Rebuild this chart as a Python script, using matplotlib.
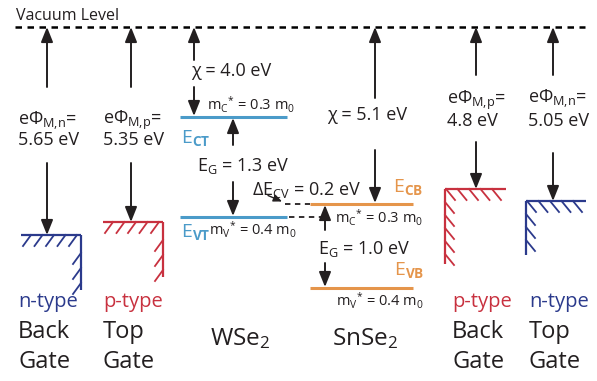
import numpy as np
import matplotlib
matplotlib.use("Agg")
import matplotlib.pyplot as plt

# ---------------- data ----------------
gate_types = ["n-type", "p-type", "p-type", "n-type"]
gate_names = [["Back", "Gate"], ["Top", "Gate"], ["Back", "Gate"], ["Top", "Gate"]]
gate_wf_sub = ["M{,}n", "M{,}p", "M{,}p", "M{,}n"]
gate_wf = [5.65, 5.35, 4.8, 5.05]          # eV below vacuum
semi_names = ["WSe$_2$", "SnSe$_2$"]
semi_chi = [4.0, 5.1]                        # electron affinity, eV
semi_eg = [1.3, 1.0]                         # band gap, eV
semi_mc = [0.3, 0.3]                         # m_C*/m0
semi_mv = [0.4, 0.4]                         # m_V*/m0
semi_cb_tag = ["CT", "CB"]
semi_vb_tag = ["VT", "VB"]
dE_cv = 0.2

# ---------------- style ----------------
plt.rcParams['font.family'] = ['Open Sans', 'DejaVu Sans']
plt.rcParams['mathtext.fontset'] = 'custom'
plt.rcParams['mathtext.rm'] = 'Open Sans'
plt.rcParams['mathtext.it'] = 'Open Sans:italic'
plt.rcParams['mathtext.bf'] = 'Open Sans:bold'
plt.rcParams['mathtext.sf'] = 'Open Sans'

TXT = '#231F20'
BLUE = '#4B9BC9'
ORANGE = '#E5954B'
NAVY = '#2B3A8C'
RED = '#C8313F'
type_color = {"n-type": NAVY, "p-type": RED}
semi_color = [BLUE, ORANGE]

# schematic (not to scale) energy -> vertical position
E_anchor = [0.0, 4.0, 4.8, 5.05, 5.1, 5.3, 5.35, 5.65, 6.1]
Y_anchor = [27, 117, 189, 201, 204, 217, 222, 235, 288]
def y_of(E):
    return float(np.interp(E, E_anchor, Y_anchor))

fig = plt.figure(figsize=(5.97, 3.81), dpi=100)
ax = fig.add_axes([0, 0, 1, 1])
ax.set_xlim(0, 597)
ax.set_ylim(381, 0)
ax.axis('off')

def arrow(x, y0, y1):
    ax.annotate('', xy=(x, y1), xytext=(x, y0),
                arrowprops=dict(arrowstyle='-|>,head_length=0.75,head_width=0.3',
                                lw=1.4, color=TXT, shrinkA=0, shrinkB=0,
                                mutation_scale=12))

def txt(x, y, s, size, color=TXT, **kw):
    ax.text(x, y, s, fontsize=size, color=color, ha='left', va='baseline', **kw)

# vacuum level
yv = y_of(0.0)
ax.plot([15, 585], [yv, yv], color='black', lw=1.8, dashes=(2.6, 2.2))
txt(16, 19.5, "Vacuum Level", 11.5)

# ---------------- gates ----------------
gate_x = [47, 131, 476, 553]
gate_span = [(21, 81), (103, 163), (445, 506), (526, 586)]
gate_bottom = [290, 277, 264, 255]
gate_side = ['right', 'right', 'left', 'left']
wf_label_y = [(124.5, 145), (124.5, 145), (103.5, 126.5), (103.5, 126.5)]
wf_label_x = [18, 103, 447, 528]
wf_up_end = [87, 87, 75, 75]
wf_down_start = [163, 163, 142, 153]
name_x = [18, 103, 452, 529]
name_y = [306.5, 337.5, 368.5]

for i in range(4):
    c = type_color[gate_types[i]]
    xl, xr = gate_span[i]
    yt = y_of(gate_wf[i])
    yb = gate_bottom[i]
    ax.plot([xl, xr], [yt, yt], color=c, lw=1.6, solid_capstyle='butt')
    if gate_side[i] == 'right':
        ax.plot([xr, xr], [yt, yb], color=c, lw=1.6, solid_capstyle='butt')
        for hx in np.arange(xl + 10, xr + 1, 11.5):
            ax.plot([hx, hx - 8], [yt, yt + 11], color=c, lw=1.3)
        for hy in np.arange(yt + 18, yb - 4, 15):
            ax.plot([xr, xr - 8], [hy, hy + 11], color=c, lw=1.3)
    else:
        ax.plot([xl, xl], [yt, yb], color=c, lw=1.6, solid_capstyle='butt')
        for hx in np.arange(xl + 1, xr - 6, 11.5):
            ax.plot([hx, hx + 9], [yt, yt + 11], color=c, lw=1.3)
        for hy in np.arange(yt + 13, yb - 4, 13):
            ax.plot([xl, xl + 9], [hy, hy + 11], color=c, lw=1.3)
    arrow(gate_x[i], wf_up_end[i], yv)
    arrow(gate_x[i], wf_down_start[i], yt)
    txt(wf_label_x[i], wf_label_y[i][0], "eΦ$_\\mathrm{%s}$=" % gate_wf_sub[i], 13)
    txt(wf_label_x[i], wf_label_y[i][1], "%g eV" % gate_wf[i], 13)
    txt(name_x[i], name_y[0], gate_types[i], 14.5, color=c)
    txt(name_x[i], name_y[1], gate_names[i][0], 17)
    txt(name_x[i], name_y[2], gate_names[i][1], 17)

# ---------------- semiconductors ----------------
semi_span = [(180, 287), (310, 413)]
chi_x = [194, 375]
gap_x = [233, 325]
chi_label = [(191, 76.5), (327, 120.5)]
chi_up_end = [60, 98]
chi_down_start = [87, 150]
gap_up_start = [145, 230]
gap_down_start = [182, 263]
eg_label = [(197, 170.5), (318, 254)]
mc_label = [(207, 110.5), (335, 223)]
mv_label = [(209, 235), (336, 306)]
cb_tag = [(181, 143.5), (393, 192)]
vb_tag = [(181, 236.5), (394, 275)]
semi_name = [(210, 345), (332, 345)]

for i in range(2):
    c = semi_color[i]
    xl, xr = semi_span[i]
    ycb = y_of(semi_chi[i])
    yvb = y_of(semi_chi[i] + semi_eg[i])
    ax.plot([xl, xr], [ycb, ycb], color=c, lw=2.2, solid_capstyle='butt')
    ax.plot([xl, xr], [yvb, yvb], color=c, lw=2.2, solid_capstyle='butt')
    arrow(chi_x[i], chi_up_end[i], yv)
    arrow(chi_x[i], chi_down_start[i], ycb - 1)
    arrow(gap_x[i], gap_up_start[i], ycb + 1)
    arrow(gap_x[i], gap_down_start[i], yvb - 1)
    txt(*chi_label[i], "χ = %.1f eV" % semi_chi[i], 13)
    txt(*eg_label[i], "E$_\\mathrm{G}$ = %.1f eV" % semi_eg[i], 13)
    txt(*mc_label[i], "$\\mathrm{m_C{}^{*}}$ = %.1f m$_0$" % semi_mc[i], 10.5)
    txt(*mv_label[i], "$\\mathrm{m_V{}^{*}}$ = %.1f m$_0$" % semi_mv[i], 10.5)
    txt(*cb_tag[i], "E$_\\mathbf{%s}$" % semi_cb_tag[i], 14, color=c)
    txt(*vb_tag[i], "E$_\\mathbf{%s}$" % semi_vb_tag[i], 14, color=c)
    txt(*semi_name[i], semi_names[i], 17.5)

# band offset annotation
y_cb2 = y_of(semi_chi[1])
y_vb1 = y_of(semi_chi[0] + semi_eg[0])
ax.plot([285, 310], [y_cb2, y_cb2], color=TXT, lw=1.3, dashes=(3, 2.5))
ax.plot([289, 322], [y_vb1, y_vb1], color=TXT, lw=1.3, dashes=(3, 2.5))
ax.annotate('', xy=(282, 201.5), xytext=(268, 195.5),
            arrowprops=dict(arrowstyle='-|>,head_length=0.5,head_width=0.22',
                            lw=1.0, color=TXT, shrinkA=0, shrinkB=0,
                            mutation_scale=10))
txt(252, 195, "ΔE$_\\mathrm{CV}$ = %.1f eV" % dE_cv, 13)

fig.savefig("out.png", dpi=100)
